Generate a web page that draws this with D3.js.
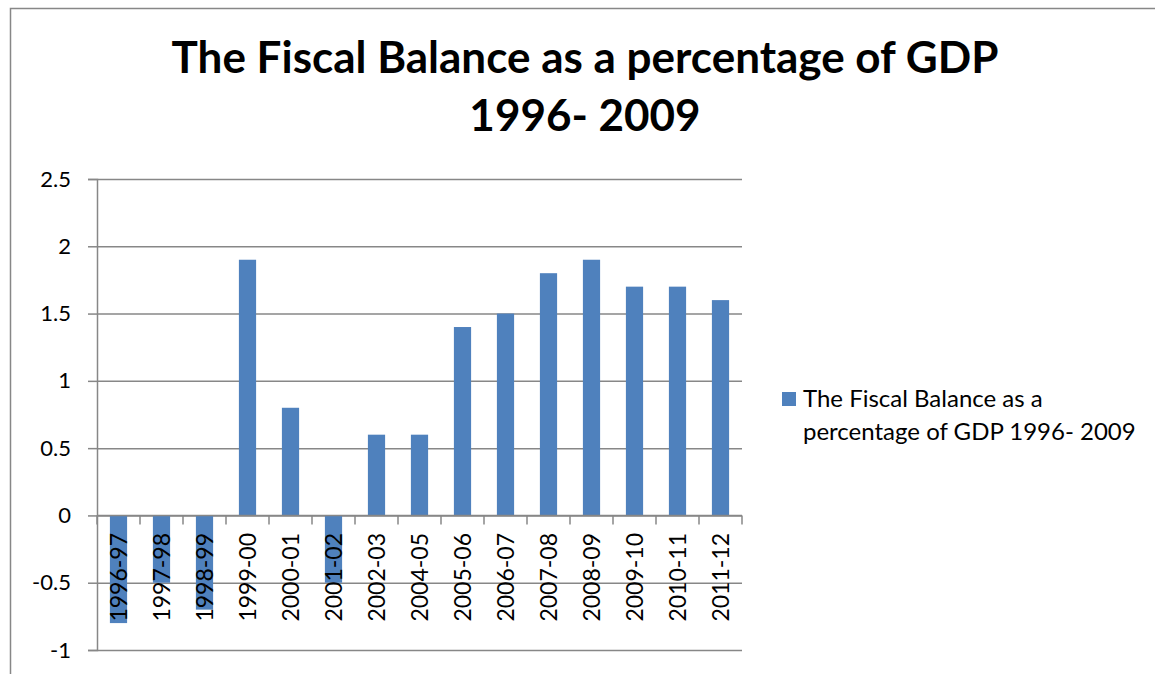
<!DOCTYPE html>
<html>
<head>
<meta charset="utf-8">
<script src="https://cdn.jsdelivr.net/npm/d3@7"></script>
<style>
  body { margin: 0; background: #fff; }
  svg { display: block; font-family: Lato, "Open Sans", sans-serif; }
</style>
</head>
<body>
<div class="fiscalChart"></div>
<script>
// chart data
const years = ["1996-97", "1997-98", "1998-99", "1999-00", "2000-01", "2001-02", "2002-03",
  "2004-05", "2005-06", "2006-07", "2007-08", "2008-09", "2009-10", "2010-11", "2011-12"];
const balance = [-0.8, -0.5, -0.7, 1.9, 0.8, -0.5, 0.6, 0.6, 1.4, 1.5, 1.8, 1.9, 1.7, 1.7, 1.6];
const yTicks = [-1, -0.5, 0, 0.5, 1, 1.5, 2, 2.5];
const titleLines = ["The Fiscal Balance as a percentage of GDP", "1996- 2009"];
const legendLines = ["The Fiscal Balance as a", "percentage of GDP 1996- 2009"];

const width = 1155;
const height = 674;
const barColor = "#4f81bd";
const lineColor = "#878787";

// plot area
const plot = { left: 97, right: 742, top: 179, bottom: 650 };

const svg = d3.select('.fiscalChart')
  .append('svg')
  .attr('width', width)
  .attr('height', height);

// outer chart border
svg.append('path')
  .attr('d', `M10.5,${height} L10.5,8.5 L${width},8.5`)
  .attr('fill', 'none')
  .attr('stroke', lineColor)
  .attr('stroke-width', 1.5);

// title
svg.append('g')
  .selectAll('text')
  .data(titleLines)
  .enter()
  .append('text')
  .attr('x', 585)
  .attr('y', (d, i) => 73 + i * 58)
  .attr('text-anchor', 'middle')
  .attr('font-size', 44)
  .attr('font-weight', 'bold')
  .text(d => d);

const x = d3.scaleBand()
  .domain(years)
  .range([plot.left, plot.right])
  .paddingInner(0.6)
  .paddingOuter(0.3);

const y = d3.scaleLinear()
  .domain([-1, 2.5])
  .range([plot.bottom, plot.top]);

// gridlines + y axis (plain hyphen for negatives, like the original)
const yAxis = svg.append('g')
  .attr('transform', `translate(${plot.left},0)`)
  .call(d3.axisLeft(y)
    .tickValues(yTicks)
    .tickSize(9)
    .tickPadding(17)
    .tickFormat(d => String(d)));

yAxis.select('.domain').attr('stroke', lineColor).attr('stroke-width', 1.5);
yAxis.selectAll('.tick line').attr('stroke', lineColor).attr('stroke-width', 1.5);
yAxis.selectAll('.tick text')
  .attr('fill', '#000')
  .attr('font-size', 22)
  .attr('font-family', 'Lato, sans-serif');

yAxis.selectAll('.tick')
  .append('line')
  .attr('x1', 0)
  .attr('x2', plot.right - plot.left)
  .attr('stroke', lineColor)
  .attr('stroke-width', 1.5);

// bars
svg.append('g')
  .selectAll('rect')
  .data(balance)
  .enter()
  .append('rect')
  .attr('x', (d, i) => x(years[i]))
  .attr('width', x.bandwidth())
  .attr('y', d => y(Math.max(0, d)))
  .attr('height', d => Math.abs(y(d) - y(0)))
  .attr('fill', barColor);

// zero axis with category separators
const zeroY = y(0);
svg.append('line')
  .attr('x1', plot.left)
  .attr('x2', plot.right)
  .attr('y1', zeroY)
  .attr('y2', zeroY)
  .attr('stroke', lineColor)
  .attr('stroke-width', 1.5);

svg.append('g')
  .selectAll('line')
  .data(d3.range(years.length + 1))
  .enter()
  .append('line')
  .attr('x1', i => plot.left + i * x.step())
  .attr('x2', i => plot.left + i * x.step())
  .attr('y1', zeroY)
  .attr('y2', zeroY + 9)
  .attr('stroke', lineColor)
  .attr('stroke-width', 1.5);

// rotated category labels
svg.append('g')
  .selectAll('text')
  .data(years)
  .enter()
  .append('text')
  .attr('transform', d => `translate(${x(d) + x.bandwidth() / 2 + 8},533) rotate(-90)`)
  .attr('text-anchor', 'end')
  .attr('font-size', 23)
  .text(d => d);

// legend
const legend = svg.append('g');
legend.append('rect')
  .attr('x', 782)
  .attr('y', 392)
  .attr('width', 14)
  .attr('height', 14)
  .attr('fill', barColor);

legend.selectAll('text')
  .data(legendLines)
  .enter()
  .append('text')
  .attr('x', 803)
  .attr('y', (d, i) => 407 + i * 33)
  .attr('font-size', 24)
  .text(d => d);
</script>
</body>
</html>
